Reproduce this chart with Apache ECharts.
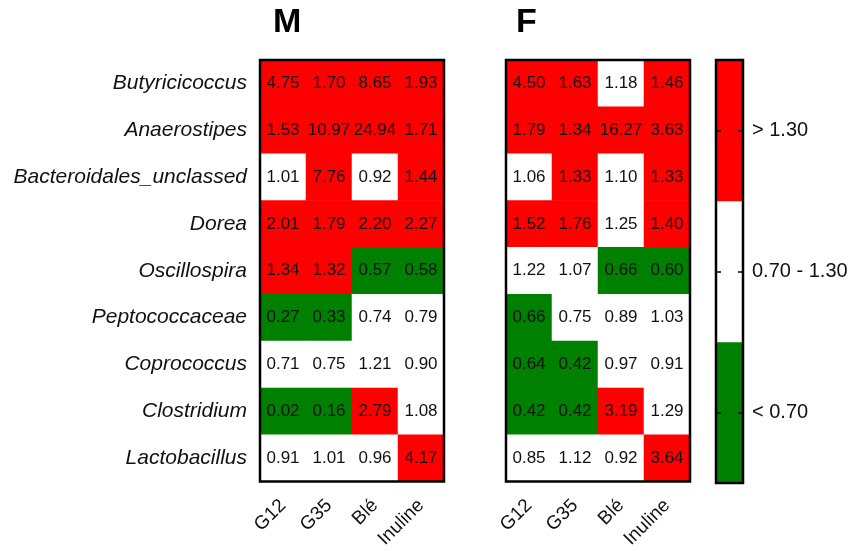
<!DOCTYPE html>
<html>
<head>
<meta charset="utf-8">
<script src="https://cdn.jsdelivr.net/npm/echarts@6/dist/echarts.min.js"></script>
<style>html,body{margin:0;padding:0;background:#fff;}#c{width:861px;height:551px;}</style>
</head>
<body>
<div id="c"></div>
<script>
var genera = ['Butyricicoccus','Anaerostipes','Bacteroidales_unclassed','Dorea','Oscillospira','Peptococcaceae','Coprococcus','Clostridium','Lactobacillus'];
var treatments = ['G12','G35','Blé','Inuline'];
// rows: genera (top to bottom), columns: treatments
var valuesM = [
  [4.75, 1.70, 8.65, 1.93],
  [1.53, 10.97, 24.94, 1.71],
  [1.01, 7.76, 0.92, 1.44],
  [2.01, 1.79, 2.20, 2.27],
  [1.34, 1.32, 0.57, 0.58],
  [0.27, 0.33, 0.74, 0.79],
  [0.71, 0.75, 1.21, 0.90],
  [0.02, 0.16, 2.79, 1.08],
  [0.91, 1.01, 0.96, 4.17]
];
var valuesF = [
  [4.50, 1.63, 1.18, 1.46],
  [1.79, 1.34, 16.27, 3.63],
  [1.06, 1.33, 1.10, 1.33],
  [1.52, 1.76, 1.25, 1.40],
  [1.22, 1.07, 0.66, 0.60],
  [0.66, 0.75, 0.89, 1.03],
  [0.64, 0.42, 0.97, 0.91],
  [0.42, 0.42, 3.19, 1.29],
  [0.85, 1.12, 0.92, 3.64]
];
var panelTitles = ['M', 'F'];
var lowCut = 0.70, highCut = 1.30;
var colorLow = '#008000', colorMid = '#ffffff', colorHigh = '#ff0000';
var legendLabels = ['< 0.70', '0.70 - 1.30', '> 1.30'];
var legendColors = [colorLow, colorMid, colorHigh];

function toCells(mat) {
  var out = [];
  for (var r = 0; r < mat.length; r++)
    for (var c = 0; c < mat[r].length; c++)
      out.push([c, r, mat[r][c]]);
  return out;
}

var FONT = 'Liberation Sans, Arial, Helvetica, sans-serif';
var gridBox = {show: true, z: 10, backgroundColor: 'transparent', borderColor: '#000', borderWidth: 2.5};

var grids = [
  Object.assign({left: 260, top: 60, width: 184, height: 423}, gridBox),
  Object.assign({left: 506, top: 60, width: 184, height: 423}, gridBox),
  Object.assign({left: 716, top: 60, width: 27, height: 423}, gridBox)
];

function xAx(gi) {
  return {
    type: 'category', gridIndex: gi, data: treatments, position: 'bottom',
    axisLine: {show: false}, axisTick: {show: false}, splitLine: {show: false},
    axisLabel: {rotate: 45, fontSize: 19, color: '#111', fontFamily: FONT, margin: 21, interval: 0}
  };
}
function yAx(gi, showLabels) {
  return {
    type: 'category', gridIndex: gi, data: genera, inverse: true,
    axisLine: {show: false}, axisTick: {show: false}, splitLine: {show: false},
    axisLabel: {show: showLabels, fontSize: 21, fontStyle: 'italic', color: '#111', fontFamily: FONT, margin: 13, interval: 0}
  };
}

var cellLabel = {
  show: true, fontSize: 17, color: '#111', fontFamily: FONT,
  formatter: function (p) { return p.value[2].toFixed(2); }
};

var option = {
  animation: false,
  backgroundColor: '#fff',
  title: [
    {text: panelTitles[0], left: 273, top: 6, padding: 0, textStyle: {fontSize: 34, fontWeight: 'bold', color: '#000', fontFamily: FONT}},
    {text: panelTitles[1], left: 516, top: 6, padding: 0, textStyle: {fontSize: 34, fontWeight: 'bold', color: '#000', fontFamily: FONT}}
  ],
  grid: grids,
  xAxis: [
    xAx(0), xAx(1),
    {type: 'category', gridIndex: 2, data: [''], show: false}
  ],
  yAxis: [
    yAx(0, true), yAx(1, false),
    {
      type: 'category', gridIndex: 2, data: legendLabels, position: 'right', z: 12,
      axisLine: {show: false}, splitLine: {show: false},
      axisTick: {show: true, inside: true, alignWithLabel: true, length: 5, lineStyle: {color: '#000', width: 1.5}},
      axisLabel: {fontSize: 20, color: '#111', fontFamily: FONT, margin: 9}
    },
    {
      type: 'category', gridIndex: 2, data: legendLabels, position: 'left', z: 12,
      axisLine: {show: false}, splitLine: {show: false},
      axisTick: {show: true, inside: true, alignWithLabel: true, length: 5, lineStyle: {color: '#000', width: 1.5}},
      axisLabel: {show: false}
    }
  ],
  visualMap: {
    type: 'piecewise', show: false, seriesIndex: [0, 1], dimension: 2,
    pieces: [
      {lt: lowCut, color: colorLow},
      {gte: lowCut, lte: highCut, color: colorMid},
      {gt: highCut, color: colorHigh}
    ]
  },
  series: [
    {type: 'heatmap', xAxisIndex: 0, yAxisIndex: 0, data: toCells(valuesM), label: cellLabel, itemStyle: {borderWidth: 0}},
    {type: 'heatmap', xAxisIndex: 1, yAxisIndex: 1, data: toCells(valuesF), label: cellLabel, itemStyle: {borderWidth: 0}},
    {
      type: 'heatmap', xAxisIndex: 2, yAxisIndex: 2,
      data: legendLabels.map(function (l, i) { return {value: [0, i, i], itemStyle: {color: legendColors[i]}}; }),
      label: {show: false}, itemStyle: {borderWidth: 0}
    }
  ]
};

var chart = echarts.init(document.getElementById('c'), null, {renderer: 'canvas'});
chart.setOption(option);
</script>
</body>
</html>
